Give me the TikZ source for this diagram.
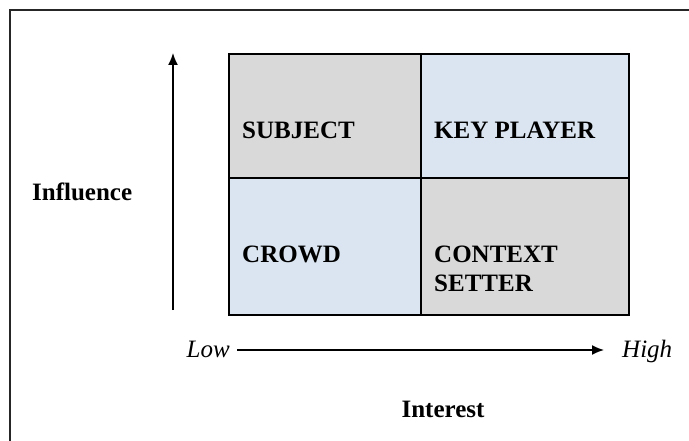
\documentclass[tikz,border=0pt]{standalone}
\usepackage{fontspec}
\setmainfont{Liberation Serif}
\usetikzlibrary{positioning}
\usetikzlibrary{arrows.meta}
\definecolor{cellgray}{RGB}{217,217,217}
\definecolor{cellblue}{RGB}{219,229,241}
\tikzset{
    cellg/.style = {rectangle, draw=black, line width=2pt, fill=cellgray, anchor=north west, inner sep=0},
    cellb/.style = {rectangle, draw=black, line width=2pt, fill=cellblue, anchor=north west, inner sep=0},
    quad/.style = {anchor=base west, inner sep=0, align=left, font=\fontsize{25}{29}\selectfont\bfseries},
    axislbl/.style = {inner sep=0, font=\fontsize{25}{29}\selectfont\bfseries},
    endlbl/.style = {inner sep=0, font=\fontsize{25}{29}\selectfont\itshape},
    axis/.style = {-{Latex[length=12pt,width=10pt]},line width=1.5pt},
}

\begin{document}
\begin{tikzpicture}[x=1pt,y=-1pt]
\useasboundingbox (0,0) rectangle (689,441);
\fill[white] (0,0) rectangle (689,441);
% outer frame, open to the right and bottom
\draw[line width=2pt,black!85] (10,441) -- (10,10) -- (689,10);
%
\node[cellg, minimum width=192, minimum height=124] at (228,53) (subject) {};
\node[cellb, minimum width=208, minimum height=124] at (420,53) (keyplayer) {};
\node[cellb, minimum width=192, minimum height=137] at (228,177) (crowd) {};
\node[cellg, minimum width=208, minimum height=137] at (420,177) (setter) {};
%
\node[quad] at (242,139) {SUBJECT};
\node[quad] at (434,139) {KEY PLAYER};
\node[quad] at (242,262) {CROWD};
\node[quad] at (434,291) {CONTEXT\\SETTER};
%
\coordinate (inf0) at (173,310);
\coordinate (inf1) at (173,53);
\draw[axis] (inf0) -- (inf1);
\node[axislbl, anchor=base west] at (32,201) (influence) {Influence};
%
\node[endlbl, anchor=base east] at (230,357) (low) {Low};
\node[endlbl, anchor=base west] at (622,357) (high) {High};
\coordinate (int0) at (237,350);
\coordinate (int1) at (604,350);
\draw[axis] (int0) -- (int1);
\node[axislbl, anchor=base] at (443,417) (interest) {Interest};

\end{tikzpicture}
\end{document}
